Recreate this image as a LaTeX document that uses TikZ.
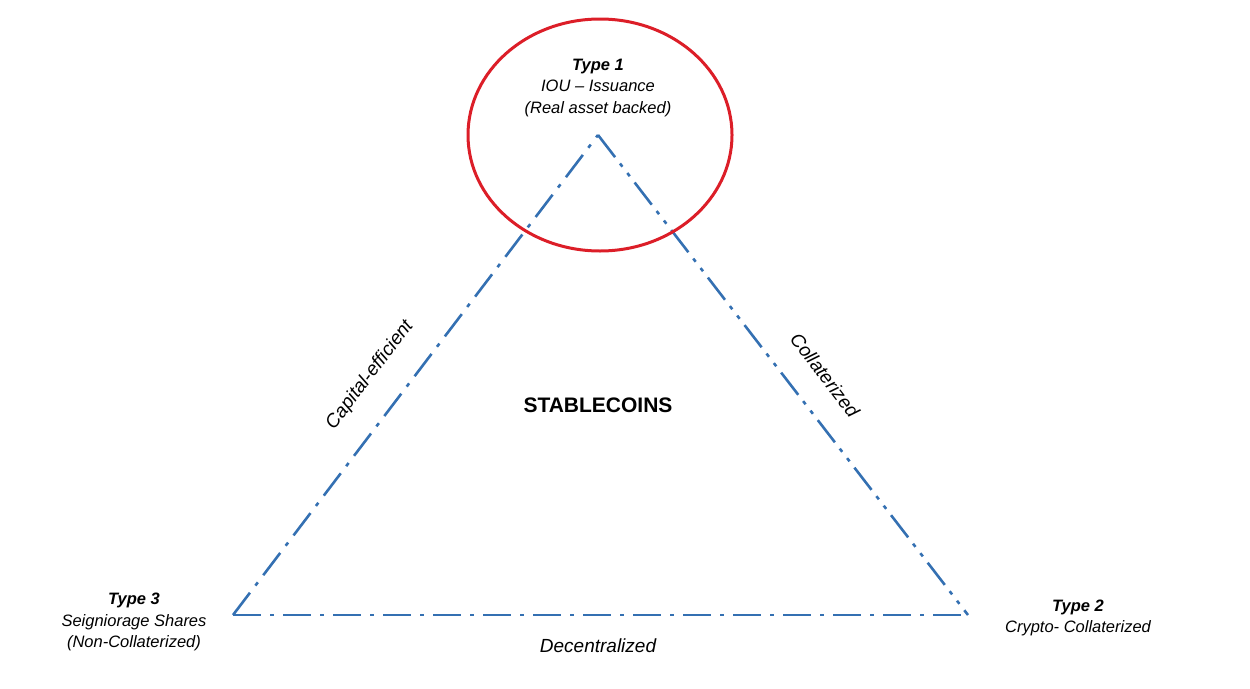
\documentclass[tikz,border=0pt]{standalone}
\usepackage{fontspec}
\setmainfont{Liberation Sans}
\begin{document}
\begin{tikzpicture}[x=1pt,y=-1pt,
  edge/.style={draw={rgb,255:red,52;green,112;blue,178}, line width=2.6pt},
  dd/.style={edge, dash pattern=on 28pt off 9pt on 4pt off 9pt},
  ddd/.style={edge, dash pattern=on 28pt off 8pt on 4pt off 8pt on 4pt off 8pt},
  lbl/.style={font=\fontsize{16.5}{21.5}\selectfont\itshape, align=center}]
\useasboundingbox (0,0) rectangle (1250,688);
\coordinate (A) at (598,135);
\coordinate (B) at (233,615);
\coordinate (C) at (968,615);
\draw[dd] (B) -- (A);
\draw[ddd] (A) -- (C);
\draw[dd] (B) -- (C);
\draw[draw={rgb,255:red,220;green,30;blue,40}, line width=3pt] (600,135) ellipse [x radius=132, y radius=116];
\node[lbl] (t1) at (598,88) {\textbf{Type 1}\\IOU – Issuance\\(Real asset backed)};
\node[lbl] (t3) at (134,622) {\textbf{Type 3}\\Seigniorage Shares\\(Non-Collaterized)};
\node[lbl] (t2) at (1078,618) {\textbf{Type 2}\\Crypto- Collaterized};
\node[lbl, font=\fontsize{19}{22}\selectfont\itshape] (dec) at (598,646) {Decentralized};
\node[lbl, font=\fontsize{19}{22}\selectfont\itshape, rotate=52.7] (cap) at (370,375) {Capital-efficient};
\node[lbl, font=\fontsize{19}{22}\selectfont\itshape, rotate=-52.7] (col) at (825,375) {Collaterized};
\node[font=\fontsize{21}{24}\selectfont\bfseries] (st) at (598,405) {STABLECOINS};
\end{tikzpicture}
\end{document}
